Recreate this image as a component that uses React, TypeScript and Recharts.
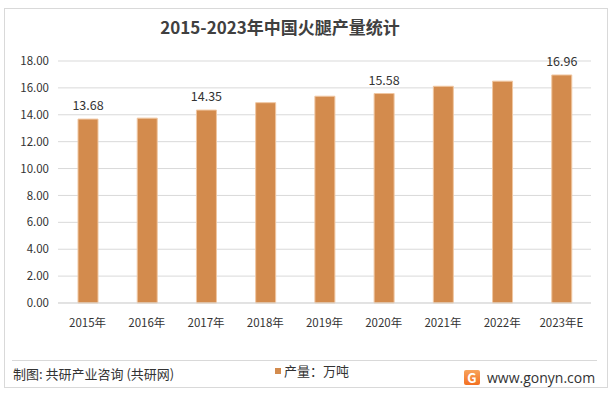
import { BarChart, Bar, XAxis, YAxis, CartesianGrid, LabelList } from 'recharts';

const years = ['2015年', '2016年', '2017年', '2018年', '2019年', '2020年', '2021年', '2022年', '2023年E'];
const output = [13.68, 13.75, 14.35, 14.9, 15.38, 15.58, 16.12, 16.5, 16.96];
const shownLabels = ['13.68', '', '14.35', '', '', '15.58', '', '', '16.96'];
const yTicks = [0, 2, 4, 6, 8, 10, 12, 14, 16, 18];

const data = years.map((year, i) => ({ year, value: output[i], label: shownLabels[i] }));

const FONT = '"Noto Sans CJK SC", "Noto Sans", sans-serif';
const BAR = '#D38B4D';

const renderLabel = (props: any) => {
  const { x, y, width, index } = props;
  const text = shownLabels[index];
  if (!text) return null;
  return (
    <text x={x + width / 2} y={y - 9} textAnchor="middle" fontSize={12.5} fill="#333" fontFamily={FONT}>
      {text}
    </text>
  );
};

export default function App() {
  return (
    <div style={{ position: 'absolute', left: 0, top: 0, width: 613, height: 396, background: '#fff', fontFamily: FONT }}>
      <div
        style={{
          position: 'absolute',
          left: 4,
          top: 8,
          width: 604,
          height: 380,
          border: '1px solid #d9d9d9',
          boxSizing: 'border-box',
        }}
      />
      <div
        style={{
          position: 'absolute',
          left: 0,
          width: 560,
          top: 14,
          textAlign: 'center',
          fontSize: 17,
          fontWeight: 'bold',
          color: '#404040',
        }}
      >
        2015-2023年中国火腿产量统计
      </div>
      <BarChart
        width={613}
        height={396}
        data={data}
        margin={{ top: 61, right: 22, left: 8, bottom: 63 }}
        style={{ position: 'absolute', left: 0, top: 0 }}
      >
        <CartesianGrid vertical={false} stroke="#d9d9d9" />
        <XAxis
          dataKey="year"
          height={30}
          tickLine={false}
          axisLine={{ stroke: '#d9d9d9' }}
          tick={{ fontSize: 11.5, fill: '#333', fontFamily: FONT }}
          tickMargin={10}
          interval={0}
        />
        <YAxis
          width={50}
          domain={[0, 18]}
          ticks={yTicks}
          tickFormatter={(v: number) => v.toFixed(2)}
          axisLine={false}
          tickLine={false}
          tick={{ fontSize: 11.5, fill: '#333', fontFamily: FONT }}
          tickMargin={3}
        />
        <Bar dataKey="value" fill={BAR} stroke="#F0C7A2" strokeWidth={1} barSize={20} isAnimationActive={false}>
          <LabelList dataKey="label" content={renderLabel} />
        </Bar>
      </BarChart>
      <div style={{ position: 'absolute', left: 12, top: 360, width: 585, height: 1, background: '#d9d9d9' }} />
      <div style={{ position: 'absolute', left: 275, top: 361, display: 'flex', alignItems: 'center', fontSize: 13, color: '#333' }}>
        <span style={{ display: 'inline-block', width: 6, height: 6, background: BAR, marginRight: 3 }} />
        产量：万吨
      </div>
      <div style={{ position: 'absolute', left: 13, top: 364, fontSize: 13, color: '#333' }}>
        制图: 共研产业咨询 (共研网)
      </div>
      <div style={{ position: 'absolute', left: 464, top: 368, display: 'flex', alignItems: 'center' }}>
        <div
          style={{
            width: 16,
            height: 15,
            borderRadius: 2,
            background: 'linear-gradient(180deg, #F7A35C 0%, #F37021 100%)',
            color: '#fff',
            fontSize: 13,
            fontWeight: 'bold',
            lineHeight: '15px',
            textAlign: 'center',
          }}
        >
          G
        </div>
        <span style={{ marginLeft: 7, fontSize: 14, color: '#333', fontFamily: '"Open Sans", sans-serif' }}>www.gonyn.com</span>
      </div>
    </div>
  );
}
